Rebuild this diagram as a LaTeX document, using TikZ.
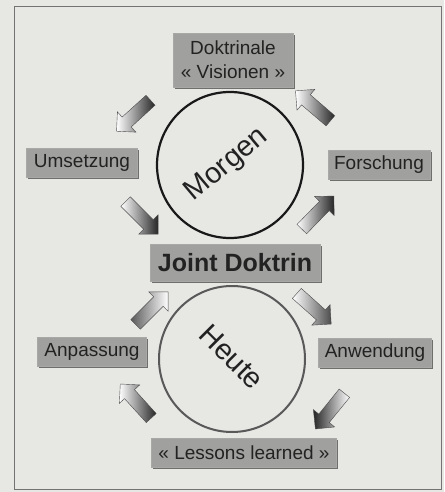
\documentclass[tikz,border=0pt]{standalone}
\usepackage{fontspec}
\setmainfont{Liberation Sans}
\usetikzlibrary{shapes.arrows,shadows}
\definecolor{paper}{HTML}{E7E7E4}
\definecolor{boxfill}{HTML}{A0A09E}
\definecolor{boxshadow}{HTML}{6E6E6C}
\definecolor{ink}{HTML}{222222}
\tikzset{
  lbl/.style={draw=boxshadow!60, line width=0.4pt, fill=boxfill, text=ink,
    font=\fontsize{19}{21}\selectfont, inner xsep=5pt, inner ysep=0pt,
    minimum height=29pt, align=center,
    drop shadow={shadow xshift=1.8pt, shadow yshift=-1.8pt, fill=boxshadow, opacity=1}},
  barrow/.style={single arrow, draw=black!70, line width=0.4pt, inner xsep=0pt, inner ysep=6.5pt,
    minimum height=46pt, single arrow head extend=7pt,
    single arrow tip angle=90, sloped, allow upside down},
  % for arrows pointing right
  darktail/.style={barrow, left color=black!85, right color=white},
  lighttail/.style={barrow, left color=white, right color=black!85},
  % for arrows pointing left (shading comes out mirrored)
  darktailL/.style={barrow, left color=white, right color=black!85},
  lighttailL/.style={barrow, left color=black!85, right color=white},
  ring/.style={circle, minimum size=146pt, inner sep=0pt},
}
\begin{document}
\begin{tikzpicture}[x=1pt,y=-1pt]
\useasboundingbox (0,0) rectangle (444,492);
\fill[paper] (0,0) rectangle (444,492);
\draw[black!55, line width=0.8pt] (14,6) rectangle (441,489);

% circles
\node[ring, draw=black!90, line width=2.2pt] (morgen) at (230,165) {};
\node[ring, draw=black!65, line width=2pt] (heute) at (232,359) {};
\node[rotate=40, text=ink, font=\fontsize{29}{30}\selectfont] (mtxt) at (227,165) {Morgen};
\node[rotate=-45, text=ink, font=\fontsize{29}{30}\selectfont] (htxt) at (232,357) {Heute};

% boxes
\node[lbl, minimum width=120pt, minimum height=54pt, font=\fontsize{19}{24}\selectfont] (vis) at (233,60) {Doktrinale\\« Visionen »};
\node[lbl, minimum width=111pt] (ums) at (82,163) {Umsetzung};
\node[lbl, minimum width=102pt] (for) at (379,165) {Forschung};
\node[lbl, minimum width=170pt, minimum height=37pt, font=\fontsize{25}{27}\bfseries] (joint) at (235,263) {Joint Doktrin};
\node[lbl, minimum width=109pt] (anp) at (92,352) {Anpassung};
\node[lbl, minimum width=113pt] (anw) at (375,353) {Anwendung};
\node[lbl, minimum width=185pt] (les) at (244,453) {« Lessons learned »};

% block arrows
\coordinate (t1) at (153,98);  \coordinate (h1) at (119,129);
\coordinate (t2) at (333,123); \coordinate (h2) at (298,93);
\coordinate (t3) at (122,198); \coordinate (h3) at (157,233);
\coordinate (t4) at (298,233); \coordinate (h4) at (333,197);
\coordinate (t5) at (132,328); \coordinate (h5) at (167,293);
\coordinate (t6) at (293,290); \coordinate (h6) at (330,323);
\coordinate (t7) at (347,390); \coordinate (h7) at (317,427);
\coordinate (t8) at (153,420); \coordinate (h8) at (123,387);
\path (t1) -- node[darktailL] (a1) {} (h1);
\path (t2) -- node[darktailL] (a2) {} (h2);
\path (t3) -- node[lighttail] (a3) {} (h3);
\path (t4) -- node[lighttail] (a4) {} (h4);
\path (t5) -- node[barrow, left color=black!65, right color=white] (a5) {} (h5);
\path (t6) -- node[barrow, left color=white, right color=black!70] (a6) {} (h6);
\path (t7) -- node[lighttailL] (a7) {} (h7);
\path (t8) -- node[darktailL] (a8) {} (h8);
\end{tikzpicture}
\end{document}
